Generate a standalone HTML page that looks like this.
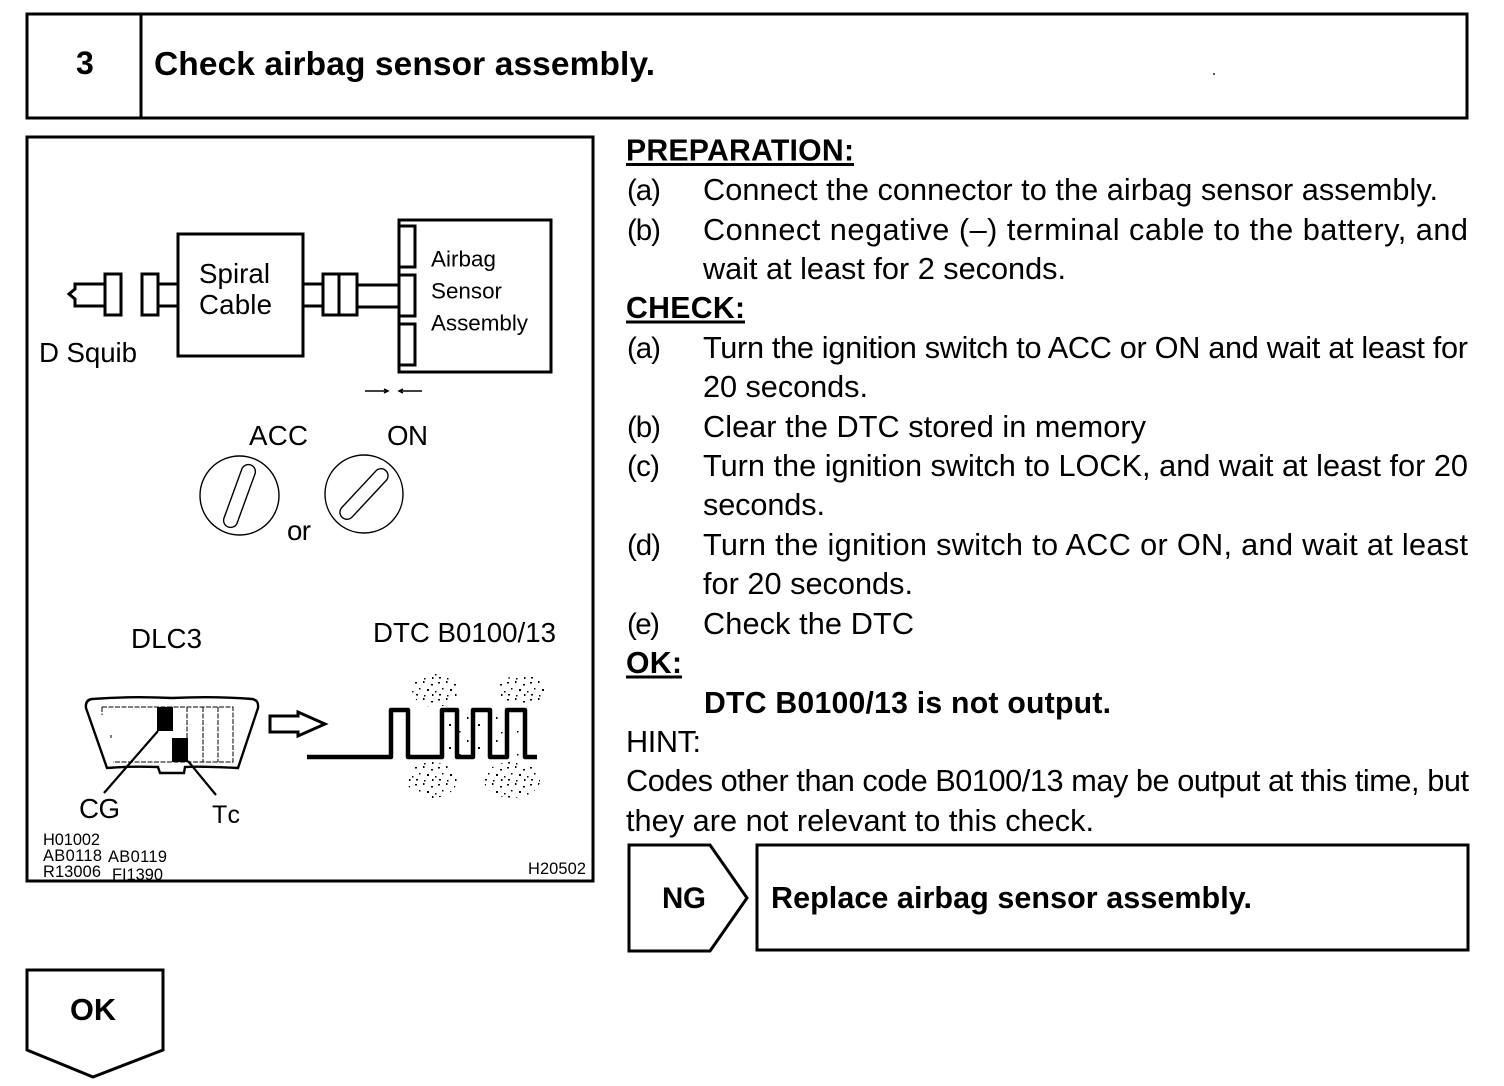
<!DOCTYPE html>
<html><head><meta charset="utf-8"><style>
html,body{margin:0;padding:0;background:#fff}
svg{display:block}
text{font-family:"Liberation Sans",sans-serif;fill:#000}
.b{font-weight:bold}
.m{font-size:30.7px}
.l{font-size:29.5px}
.h{font-size:30.2px;font-weight:bold}
.s{font-size:16.4px}
.d{font-size:27.7px}
.a{font-size:22.4px}
</style></head><body>
<svg width="1504" height="1086" viewBox="0 0 1504 1086" xmlns="http://www.w3.org/2000/svg">
<defs>
<pattern id="st" width="23" height="17" patternUnits="userSpaceOnUse">
<g fill="#000">
<rect x="1" y="2" width="2" height="1.5"/><rect x="9" y="1" width="1.5" height="2"/><rect x="17" y="4" width="2" height="1.5"/>
<rect x="5" y="8" width="1.5" height="1.5"/><rect x="13" y="9" width="2" height="2"/><rect x="21" y="11" width="1.5" height="1.5"/>
<rect x="2" y="14" width="2" height="1.5"/><rect x="10" y="15" width="1.5" height="1.5"/><rect x="18" y="14" width="1.5" height="2"/>
</g>
</pattern>
<pattern id="st2" width="29" height="23" patternUnits="userSpaceOnUse">
<g fill="#000">
<rect x="3" y="4" width="1.5" height="2"/><rect x="14" y="11" width="2" height="2"/><rect x="24" y="18" width="1.5" height="1.5"/><rect x="8" y="19" width="1.5" height="1.5"/>
</g>
</pattern>
</defs>
<rect width="1504" height="1086" fill="#fff"/>
<g fill="none" stroke="#000" stroke-width="3">
<rect x="27" y="14" width="1440" height="104"/>
<line x1="141" y1="14" x2="141" y2="118"/>
<rect x="27" y="137" width="566" height="744"/>
<polygon points="629,845 710,845 747,898 710,951 629,951"/>
<rect x="757" y="845" width="711" height="105"/>
<polygon points="27,970 163,970 163,1050 93,1077 27,1050"/>
</g>
<rect x="1213" y="73" width="2" height="2" fill="#555"/>
<text x="76" y="74" class="b" font-size="32" textLength="18">3</text>
<text x="154" y="75" class="b" font-size="33.5" textLength="501">Check airbag sensor assembly.</text>
<text x="662" y="908" class="b" font-size="29.5" textLength="44">NG</text>
<text x="771" y="908" class="b" font-size="30.5" textLength="481">Replace airbag sensor assembly.</text>
<text x="70" y="1020" class="b" font-size="30.7" textLength="46">OK</text>

<!-- main text -->
<g>
<text x="626" y="160.5" class="h" textLength="228">PREPARATION:</text>
<text x="627" y="200" class="l" textLength="34">(a)</text>
<text x="703" y="200" class="m" textLength="735">Connect the connector to the airbag sensor assembly.</text>
<text x="627" y="240" class="l" textLength="34">(b)</text>
<text x="703" y="240" class="m" textLength="765">Connect negative (–) terminal cable to the battery, and</text>
<text x="703" y="279" class="m" textLength="363">wait at least for 2 seconds.</text>
<text x="626" y="318" class="h" textLength="119">CHECK:</text>
<text x="627" y="358" class="l" textLength="34">(a)</text>
<text x="703" y="358" class="m" textLength="765">Turn the ignition switch to ACC or ON and wait at least for</text>
<text x="703" y="397" class="m" textLength="165">20 seconds.</text>
<text x="627" y="437" class="l" textLength="34">(b)</text>
<text x="703" y="437" class="m" textLength="443">Clear the DTC stored in memory</text>
<text x="627" y="476" class="l" textLength="33">(c)</text>
<text x="703" y="476" class="m" textLength="765">Turn the ignition switch to LOCK, and wait at least for 20</text>
<text x="703" y="515" class="m" textLength="122">seconds.</text>
<text x="627" y="555" class="l" textLength="34">(d)</text>
<text x="703" y="555" class="m" textLength="765">Turn the ignition switch to ACC or ON, and wait at least</text>
<text x="703" y="594" class="m" textLength="210">for 20 seconds.</text>
<text x="627" y="634" class="l" textLength="33">(e)</text>
<text x="703" y="634" class="m" textLength="211">Check the DTC</text>
<text x="626" y="673" class="h" textLength="56">OK:</text>
<text x="704" y="713" class="h" textLength="407">DTC B0100/13 is not output.</text>
<text x="626" y="752" class="m" textLength="75">HINT:</text>
<text x="626" y="791" class="m" textLength="843">Codes other than code B0100/13 may be output at this time, but</text>
<text x="626" y="831" class="m" textLength="468">they are not relevant to this check.</text>
</g>
<g stroke="#000" stroke-width="3">
<line x1="626" y1="164.5" x2="854" y2="164.5"/>
<line x1="626" y1="322" x2="745" y2="322"/>
<line x1="626" y1="677" x2="682" y2="677"/>
</g>

<!-- top diagram -->
<g fill="none" stroke="#000" stroke-width="3">
<rect x="178" y="234" width="125" height="122"/>
<rect x="399" y="220" width="152" height="152"/>
<rect x="105" y="274" width="16" height="41"/>
<rect x="142" y="274" width="16" height="41"/>
<polyline points="105,284 75,284 75,289 69,294 75,299 75,306 105,306"/>
<line x1="158" y1="284" x2="178" y2="284"/>
<line x1="158" y1="306" x2="178" y2="306"/>
<line x1="303" y1="284" x2="323" y2="284"/>
<line x1="303" y1="306" x2="323" y2="306"/>
<rect x="323" y="274" width="34" height="41"/>
<line x1="339" y1="274" x2="339" y2="315"/>
<line x1="357" y1="285" x2="399" y2="285"/>
<line x1="357" y1="307" x2="399" y2="307"/>
<rect x="399" y="226" width="16" height="41"/>
<rect x="399" y="275" width="16" height="41"/>
<rect x="399" y="324" width="16" height="41"/>
</g>
<g fill="none" stroke="#000" stroke-width="1.5">
<path d="M365 391H388M384 389L388 391L384 393"/>
<path d="M422 391H399M403 389L399 391L403 393"/>
</g>
<text x="199" y="283" class="d" textLength="71">Spiral</text>
<text x="199" y="314" class="d" textLength="73">Cable</text>
<text x="39" y="362" class="d" textLength="98">D Squib</text>
<text x="431" y="266.5" class="a" textLength="65">Airbag</text>
<text x="431" y="298.5" class="a" textLength="71">Sensor</text>
<text x="431" y="330.5" class="a" textLength="97">Assembly</text>

<!-- switches -->
<text x="249" y="445" class="d" textLength="59">ACC</text>
<text x="387" y="445" class="d" textLength="41">ON</text>
<text x="287" y="540" class="d" textLength="24">or</text>
<g fill="none" stroke="#000" stroke-width="1.4">
<circle cx="239.5" cy="495.5" r="39.5"/>
<circle cx="364" cy="494" r="39"/>
<rect x="-33" y="-7" width="66" height="14" rx="7" transform="translate(239.5 496) rotate(-70)"/>
<rect x="-32" y="-7" width="64" height="14" rx="7" transform="translate(364 494) rotate(-47)"/>
</g>

<!-- DLC3 -->
<text x="131" y="648" class="d" textLength="71">DLC3</text>
<text x="373" y="642" class="d" textLength="183">DTC B0100/13</text>
<path d="M92 699Q130 696 172 698Q215 696 252 699Q259 700 258 708L238 768Q200 766 185 767L184 773L160 773L158 767Q130 766 107 768L86 708Q85 700 92 699Z" fill="none" stroke="#000" stroke-width="2.4"/>
<g fill="none" stroke="#000" stroke-width="1" stroke-dasharray="5 1.5">
<path d="M102 707V715M102 707H233V762H113"/>
<line x1="187" y1="707" x2="187" y2="762"/>
<line x1="203" y1="707" x2="203" y2="762"/>
<line x1="218" y1="707" x2="218" y2="762"/>
<path d="M111 735V738"/>
</g>
<rect x="157" y="707" width="16" height="24" fill="#000"/>
<rect x="172" y="738" width="16" height="24" fill="#000"/>
<g stroke="#000" stroke-width="2.2">
<line x1="158" y1="731" x2="104" y2="793"/>
<line x1="188" y1="761" x2="216" y2="795"/>
</g>
<text x="79" y="818" class="d" textLength="41">CG</text>
<text x="212" y="823" font-size="25" textLength="28">Tc</text>
<polygon points="270,716 298,716 298,712 325,724 298,736 298,732 270,732" fill="none" stroke="#000" stroke-width="3"/>

<!-- wave -->
<g fill="url(#st)">
<ellipse cx="435" cy="690" rx="23" ry="17"/>
<ellipse cx="522" cy="690" rx="24" ry="15"/>
<ellipse cx="432" cy="780" rx="25" ry="18"/>
<ellipse cx="512" cy="780" rx="28" ry="18"/>
</g>
<rect x="445" y="712" width="85" height="46" fill="url(#st2)"/>
<polyline points="307,757 391,757 391,710 408,710 408,757 442,757 442,710 457,710 457,757 473,757 473,710 490,710 490,757 507,757 507,710 525,710 525,757 537,757" fill="none" stroke="#000" stroke-width="4.5" stroke-linejoin="round"/>

<!-- codes -->
<text x="43" y="845" class="s" textLength="57">H01002</text>
<text x="43" y="861" class="s" textLength="59">AB0118</text>
<text x="108" y="862" class="s" textLength="59">AB0119</text>
<text x="43" y="877" class="s" textLength="58">R13006</text>
<text x="112" y="880" class="s" textLength="51">FI1390</text>
<text x="528" y="874" class="s" textLength="58">H20502</text>
<line x1="27" y1="881" x2="593" y2="881" stroke="#000" stroke-width="3"/>
</svg>
</body></html>
